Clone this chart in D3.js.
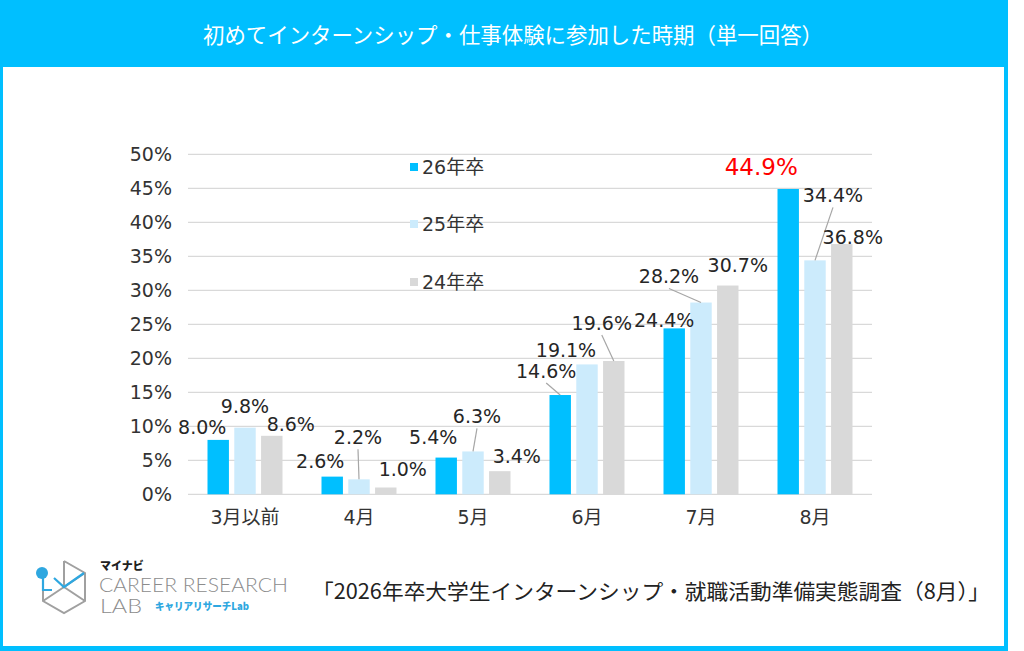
<!DOCTYPE html>
<html><head><meta charset="utf-8">
<script src="https://cdn.jsdelivr.net/npm/d3@7"></script>
<style>body{margin:0;background:#fff}svg{display:block}</style>
</head><body><svg id="c" width="1024" height="651"></svg>
<script>
const categories = ["3月以前","4月","5月","6月","7月","8月"];
const seriesNames = ["26年卒","25年卒","24年卒"];
const v26 = [8.0, 2.6, 5.4, 14.6, 24.4, 44.9];
const v25 = [9.8, 2.2, 6.3, 19.1, 28.2, 34.4];
const v24 = [8.6, 1.0, 3.4, 19.6, 30.7, 36.8];
const yTicks = [0,5,10,15,20,25,30,35,40,45,50];
const title = "初めてインターンシップ・仕事体験に参加した時期（単一回答）";
const source = "「2026年卒大学生インターンシップ・就職活動準備実態調査（8月）」";

// label placement offsets (px) relative to bar centre / bar top, per series per category
const labelOff = [
  [[-16,-13],[-12,-15],[-13,-20],[-14,-24],[-10,-8],[-27,-22]],
  [[0,-21],[-1,-42],[4,-35],[-21,-14],[-32,-26],[18,-65]],
  [[19,-11],[17,-18],[17,-15],[-12,-38],[10,-20],[11,-7]]
];
// leader lines: [series, category]
const leaders = [[1,1],[1,2],[0,3],[2,3],[1,4],[1,5]];

const colors = ["#00BFFF","#CCEBFC","#D9D9D9"];
const series = [v26, v25, v24];
const svg = d3.select("#c");
const NUM = "'DejaVu Sans','Noto Sans CJK JP',sans-serif";
const JP = "'Noto Sans CJK JP',sans-serif";

// frame
svg.append("rect").attr("x",0).attr("y",0).attr("width",1008).attr("height",651).attr("fill","#00BFFF");
svg.append("rect").attr("x",3).attr("y",67).attr("width",1001).attr("height",579).attr("fill","#fff");
svg.append("text").attr("x",513).attr("y",35).attr("dy","0.35em").attr("text-anchor","middle")
  .attr("fill","#fff").attr("font-family",JP).attr("font-size",22)
  .attr("textLength",620).attr("lengthAdjust","spacingAndGlyphs").text(title);

const x = d3.scaleBand().domain(categories).range([188,872]);
const y = d3.scaleLinear().domain([0,50]).range([494.3,154.3]);
const xs = d3.scaleBand().domain(seriesNames).range([-37.5,37.5]).paddingInner(0.2);

// grid
svg.append("g").selectAll("line").data(yTicks).join("line")
  .attr("x1",188).attr("x2",872).attr("y1",d=>y(d)).attr("y2",d=>y(d))
  .attr("stroke","#D9D9D9").attr("stroke-width",1.3);

const yAxis = svg.append("g").attr("transform","translate(188,0)")
  .call(d3.axisLeft(y).tickValues(yTicks).tickFormat(d=>d+"%").tickSize(0).tickPadding(16));
yAxis.select(".domain").remove();
yAxis.selectAll("text").attr("font-family",NUM).attr("font-size",19).attr("fill","#333");

const xAxis = svg.append("g").attr("transform","translate(0,494.3)")
  .call(d3.axisBottom(x).tickSize(0).tickPadding(16));
xAxis.select(".domain").remove();
xAxis.selectAll("text").attr("font-family",NUM).attr("font-size",19).attr("fill","#333");

// bars
series.forEach((vals,si)=>{
  svg.append("g").selectAll("rect").data(vals).join("rect")
    .attr("x",(d,i)=>x(categories[i])+x.bandwidth()/2+xs(seriesNames[si]))
    .attr("width",xs.bandwidth())
    .attr("y",d=>y(d)).attr("height",d=>y(0)-y(d))
    .attr("fill",colors[si]);
});

function bc(si,i){return x(categories[i])+x.bandwidth()/2+xs(seriesNames[si])+xs.bandwidth()/2;}

// leader lines
leaders.forEach(([si,i])=>{
  const bx=bc(si,i), by=y(series[si][i]);
  const lx=bx+labelOff[si][i][0], ly=by+labelOff[si][i][1];
  svg.append("line").attr("x1",lx).attr("y1",ly+12)
    .attr("x2",bx).attr("y2",by).attr("stroke","#A6A6A6").attr("stroke-width",1.2);
});

// labels
series.forEach((vals,si)=>{
  svg.append("g").selectAll("text").data(vals).join("text")
    .attr("x",(d,i)=>bc(si,i)+labelOff[si][i][0])
    .attr("y",(d,i)=>y(d)+labelOff[si][i][1])
    .attr("dy","0.35em").attr("text-anchor","middle")
    .attr("font-family",NUM)
    .attr("font-size",(d,i)=>(si===0&&i===5)?23:19)
    .attr("fill",(d,i)=>(si===0&&i===5)?"#FF0000":"#262626")
    .text(d=>d.toFixed(1)+"%");
});

// legend
const ly0=[167,224,282];
seriesNames.forEach((n,si)=>{
  svg.append("rect").attr("x",410).attr("y",ly0[si]-4).attr("width",8).attr("height",8).attr("fill",colors[si]);
  svg.append("text").attr("x",422).attr("y",ly0[si]).attr("dy","0.35em").attr("font-family",NUM)
    .attr("font-size",19).attr("fill","#333").text(n);
});

// source
svg.append("text").attr("x",312).attr("y",592).attr("dy","0.35em").attr("font-family",JP)
  .attr("font-size",21).attr("fill","#222").attr("textLength",678).attr("lengthAdjust","spacingAndGlyphs").text(source);

// logo (approximation)
const lg=svg.append("g");
lg.append("path").attr("d","M64,561 L85,573 L85,601 L64,613 L43,601 L43,580 M64,561 L64,587 L85,601 M64,587 L43,601 M64,587 L85,573")
  .attr("fill","none").attr("stroke","#A0A0A0").attr("stroke-width",2);
lg.append("path").attr("d","M43,575 L43,590 L52,590 M54,578 L64,587 L84,573")
  .attr("fill","none").attr("stroke","#2EA7E0").attr("stroke-width",2.2);
lg.append("circle").attr("cx",42).attr("cy",573).attr("r",6).attr("fill","#2EA7E0");
lg.append("text").attr("x",100).attr("y",570).attr("font-family",JP).attr("font-weight",900)
  .attr("font-size",11).attr("fill","#222").text("マイナビ");
lg.append("text").attr("x",99).attr("y",592).attr("font-family","'Lato',sans-serif").attr("font-weight",300)
  .attr("font-size",19).attr("fill","#8C8C8C").attr("textLength",189).attr("lengthAdjust","spacingAndGlyphs").text("CAREER RESEARCH");
lg.append("text").attr("x",100).attr("y",613).attr("font-family","'Lato',sans-serif").attr("font-weight",300)
  .attr("font-size",19).attr("fill","#8C8C8C").attr("textLength",42).attr("lengthAdjust","spacingAndGlyphs").text("LAB");
lg.append("text").attr("x",155).attr("y",610).attr("font-family",JP).attr("font-weight",900)
  .attr("font-size",10.5).attr("fill","#2EA7E0").attr("textLength",94).attr("lengthAdjust","spacingAndGlyphs").text("キャリアリサーチLab");
</script></body></html>
